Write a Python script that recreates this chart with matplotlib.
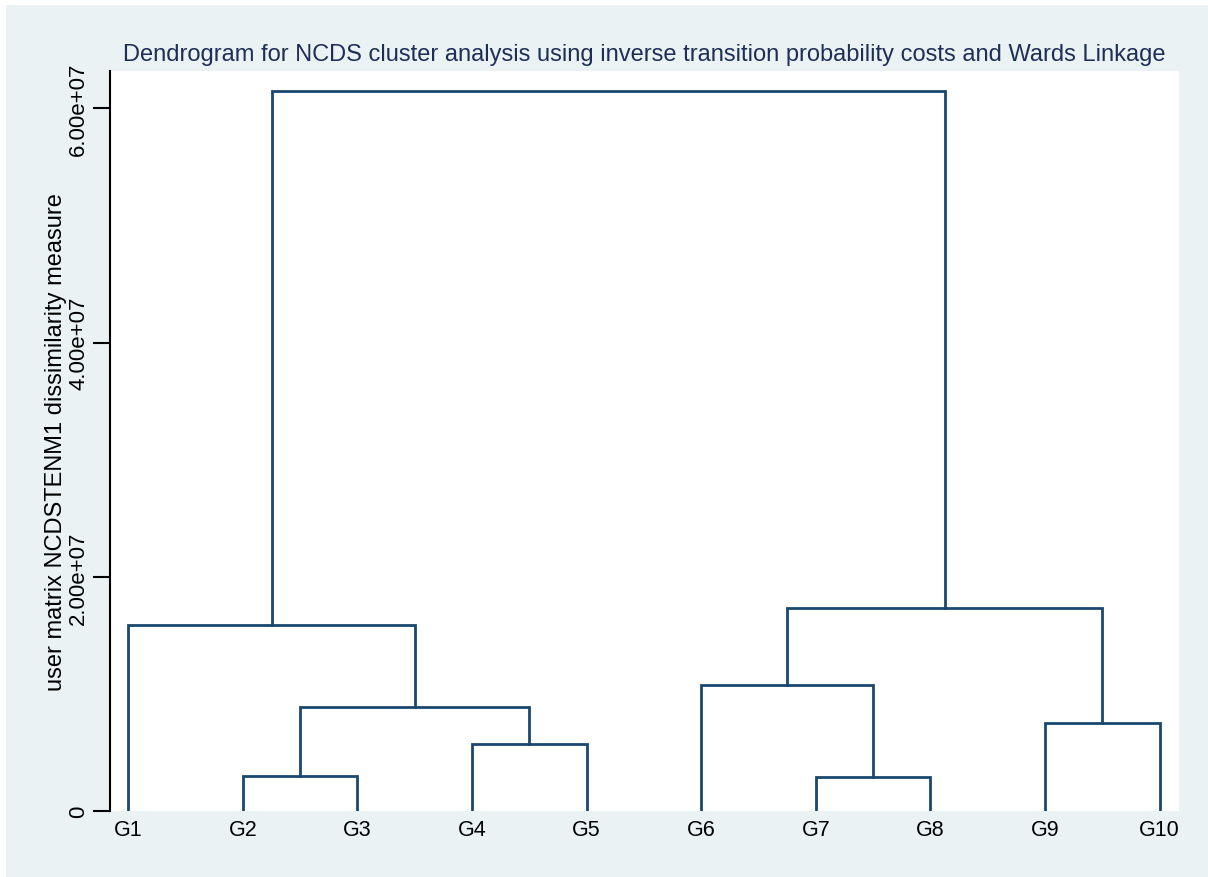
import matplotlib
matplotlib.use("Agg")
import matplotlib.pyplot as plt
from matplotlib.patches import Rectangle

plt.rcParams['font.family'] = ['Liberation Sans', 'DejaVu Sans']

leaves = ['G1', 'G2', 'G3', 'G4', 'G5', 'G6', 'G7', 'G8', 'G9', 'G10']
# merges: (left node, right node, height); nodes 0-9 are leaves, 10+ are merges in order
merges = [
    (1, 2, 0.30e7),     # 10: G2+G3
    (6, 7, 0.29e7),     # 11: G7+G8
    (3, 4, 0.573e7),    # 12: G4+G5
    (8, 9, 0.752e7),    # 13: G9+G10
    (10, 12, 0.889e7),  # 14
    (5, 11, 1.077e7),   # 15
    (0, 14, 1.59e7),    # 16
    (15, 13, 1.735e7),  # 17
    (16, 17, 6.145e7),  # 18
]

line_col = '#1a476f'
bg_col = '#EAF2F3'

fig = plt.figure(figsize=(12.08, 8.78), dpi=100, facecolor='white')
fig.patches.append(Rectangle((6 / 1208, 0), 1, (878 - 6) / 878, transform=fig.transFigure,
                             facecolor=bg_col, edgecolor='none', zorder=-10))
ax = fig.add_axes([110 / 1208, 66 / 878, 1069 / 1208, 740 / 878])
ax.set_facecolor('white')

# x position and height of each node
xpos = {i: i + 1 for i in range(len(leaves))}
ypos = {i: 0.0 for i in range(len(leaves))}
for k, (a, b, h) in enumerate(merges):
    node = len(leaves) + k
    ax.plot([xpos[a], xpos[a], xpos[b], xpos[b]], [ypos[a], h, h, ypos[b]],
            color=line_col, lw=2, solid_joinstyle='miter')
    xpos[node] = (xpos[a] + xpos[b]) / 2
    ypos[node] = h

ax.set_xlim(0.84, 10.17)
ax.set_ylim(0, 6.32e7)
ax.set_xticks(range(1, len(leaves) + 1))
ax.set_xticklabels(leaves, fontsize=15.5)
ax.tick_params(axis='x', length=0, pad=6)
ax.set_yticks([0, 2e7, 4e7, 6e7])
ax.set_yticklabels(['0', '2.00e+07', '4.00e+07', '6.00e+07'], fontsize=16,
                   rotation=90, va='center')
ax.tick_params(axis='y', length=12, width=1.5, pad=3)
for s in ['top', 'right', 'bottom']:
    ax.spines[s].set_visible(False)
ax.spines['left'].set_linewidth(1.5)

ax.set_ylabel('user matrix NCDSTENM1 dissimilarity measure', fontsize=17, labelpad=1)
ax.set_title('Dendrogram for NCDS cluster analysis using inverse transition probability costs and Wards Linkage',
             fontsize=17, color='#1E2E56', pad=8)

fig.savefig('out.png', dpi=100, facecolor=fig.get_facecolor())
